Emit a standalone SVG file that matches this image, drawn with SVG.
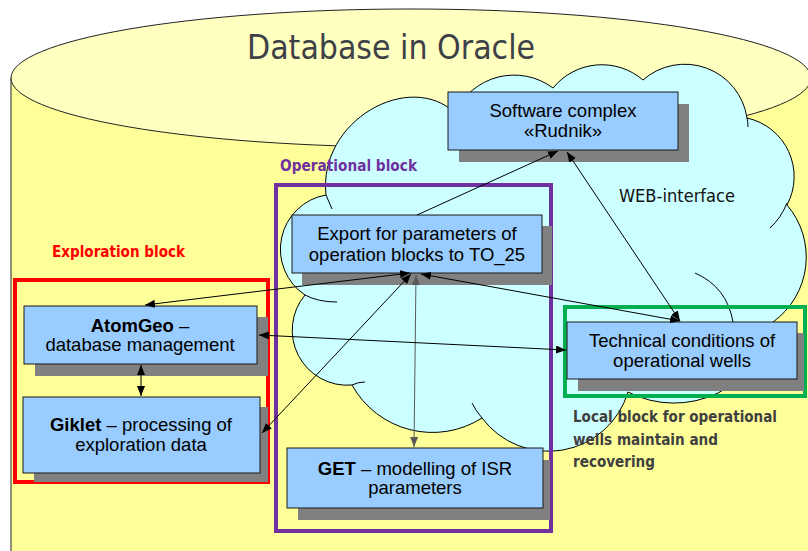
<svg xmlns="http://www.w3.org/2000/svg" width="808" height="551" viewBox="0 0 808 551">
<defs>
<marker id="ah" viewBox="0 0 10 8" refX="10" refY="4" markerWidth="10" markerHeight="8" markerUnits="userSpaceOnUse" orient="auto-start-reverse"><path d="M0,0 L10,4 L0,8 z" fill="#000"/></marker>
<marker id="ahg" viewBox="0 0 10 8" refX="10" refY="4" markerWidth="10" markerHeight="8" markerUnits="userSpaceOnUse" orient="auto-start-reverse"><path d="M0,0 L10,4 L0,8 z" fill="#595959"/></marker>
</defs>
<style>
.box{fill:#99CCFF;stroke:#1a1a1a;stroke-width:1}
.sh{fill:#808080}
.bt{font-family:"Liberation Sans",Arial,sans-serif;font-size:18.5px;fill:#000;text-anchor:middle}
.b{font-weight:bold}
.lbl{font-family:"DejaVu Sans",Verdana,sans-serif;font-weight:bold;font-size:15px}
.conn{stroke:#000;stroke-width:1;fill:none}
.hook{fill:none;stroke:#000;stroke-width:1}
.grp{fill:none;stroke-width:4}
</style>
<rect x="0" y="0" width="808" height="551" fill="#fff"/>
<g id="database">
<path d="M11,78 L11,560 L811,560 L811,78 Z" fill="#FFFF99" stroke="#222" stroke-width="1"/>
<ellipse cx="411" cy="78" rx="400" ry="69" fill="#FFFFC0" stroke="#222" stroke-width="1"/>
<text x="391" y="59" font-family="DejaVu Sans, Verdana, sans-serif" font-size="33" fill="#3d4147" text-anchor="middle" textLength="288" lengthAdjust="spacingAndGlyphs">Database in Oracle</text>
</g>
<g id="cloud">
<path d="M326,195 C318,120 410,70 455,113 A65 65 0 0 1 553,88 A63 63 0 0 1 643,80 A63 63 0 0 1 747,118 A60 60 0 0 1 787,205 A80 80 0 0 1 773,322 A101 101 0 0 1 628,392 A83 83 0 0 1 482,418 A92 92 0 0 1 352,385 A55 55 0 0 1 305,295 A55 55 0 0 1 326,195 Z" fill="#CCFFFF" stroke="#000" stroke-width="1"/>
<path class="hook" d="M326,195 Q329,202 332,209"/>
<path class="hook" d="M747,118 Q748,122 748,127"/>
<path class="hook" d="M787,203 Q781,218 770,228"/>
<path class="hook" d="M695,273 Q727,287 733,322"/>
<path class="hook" d="M305,295 Q318,302 337,302"/>
<path class="hook" d="M352,385 Q358,382 365,382"/>
<path class="hook" d="M482,418 Q476,411 472,403"/>
<text x="619" y="202" font-family="DejaVu Sans, Verdana, sans-serif" font-size="17" fill="#111" textLength="116" lengthAdjust="spacingAndGlyphs">WEB-interface</text>
</g>
<g id="exploration-block">
<rect class="grp" x="15" y="280" width="253" height="202" stroke="#FF0000"/>
<text class="lbl" x="52" y="257" fill="#FF0000" textLength="133" lengthAdjust="spacingAndGlyphs">Exploration block</text>
</g>
<g id="operational-block">
<rect class="grp" x="276" y="185" width="275" height="346" stroke="#7030A0"/>
<text class="lbl" x="280" y="171" fill="#7030A0" textLength="137" lengthAdjust="spacingAndGlyphs">Operational block</text>
</g>
<g id="local-block">
<rect class="grp" x="565" y="307" width="240" height="89" stroke="#00B050"/>
<text class="lbl" fill="#404040"><tspan x="573" y="422" textLength="204" lengthAdjust="spacingAndGlyphs">Local block for operational</tspan><tspan x="573" y="445" textLength="145" lengthAdjust="spacingAndGlyphs">wells maintain and</tspan><tspan x="573" y="467" textLength="82" lengthAdjust="spacingAndGlyphs">recovering</tspan></text>
</g>
<g id="rudnik">
<rect class="sh" x="459" y="104" width="230" height="58"/>
<rect class="box" x="448" y="92" width="230" height="58"/>
<text class="bt" x="563" y="117">Software complex</text>
<text class="bt" x="563" y="137">«Rudnik»</text>
</g>
<g id="export">
<rect class="sh" x="302" y="226" width="250" height="59"/>
<rect class="box" x="292" y="215" width="250" height="58"/>
<text class="bt" x="417" y="240" font-size="19.5">Export for parameters of</text>
<text class="bt" x="417" y="261" font-size="19.5">operation blocks to TO_25</text>
</g>
<g id="atomgeo">
<rect class="sh" x="35" y="317" width="233" height="59"/>
<rect class="box" x="24" y="306" width="233" height="58"/>
<text class="bt" x="140" y="332"><tspan class="b">AtomGeo</tspan> –</text>
<text class="bt" x="140" y="351">database management</text>
</g>
<g id="giklet">
<rect class="sh" x="34" y="407" width="234" height="75"/>
<rect class="box" x="23" y="397" width="237" height="76"/>
<text class="bt" x="141" y="431"><tspan class="b">Giklet</tspan> – processing of</text>
<text class="bt" x="141" y="451">exploration data</text>
</g>
<g id="technical">
<rect class="sh" x="578" y="333" width="226" height="58"/>
<rect class="box" x="567" y="322" width="230" height="57"/>
<text class="bt" x="682" y="347">Technical conditions of</text>
<text class="bt" x="682" y="367">operational wells</text>
</g>
<g id="get">
<rect class="sh" x="298" y="460" width="252" height="60"/>
<rect class="box" x="287" y="448" width="256" height="60"/>
<text class="bt" x="415" y="475"><tspan class="b">GET</tspan> – modelling of ISR</text>
<text class="bt" x="415" y="494">parameters</text>
</g>
<g id="connectors">
<path class="conn" d="M417,215 L558,151" marker-end="url(#ah)"/>
<path class="conn" d="M567,152 L680,321" marker-start="url(#ah)" marker-end="url(#ah)"/>
<path class="conn" d="M421,274 L680,321" marker-start="url(#ah)" marker-end="url(#ah)"/>
<path class="conn" d="M145,305 L410,273" marker-start="url(#ah)" marker-end="url(#ah)"/>
<path class="conn" d="M262,433 L411,274" marker-start="url(#ah)" marker-end="url(#ah)"/>
<path class="conn" d="M416,275 L414,447" stroke="#595959" style="stroke:#595959" marker-start="url(#ahg)" marker-end="url(#ahg)"/>
<path class="conn" d="M259,335 L566,350" marker-start="url(#ah)" marker-end="url(#ah)"/>
<path class="conn" d="M141,365 L141,396" marker-start="url(#ah)" marker-end="url(#ah)"/>
</g>
</svg>
